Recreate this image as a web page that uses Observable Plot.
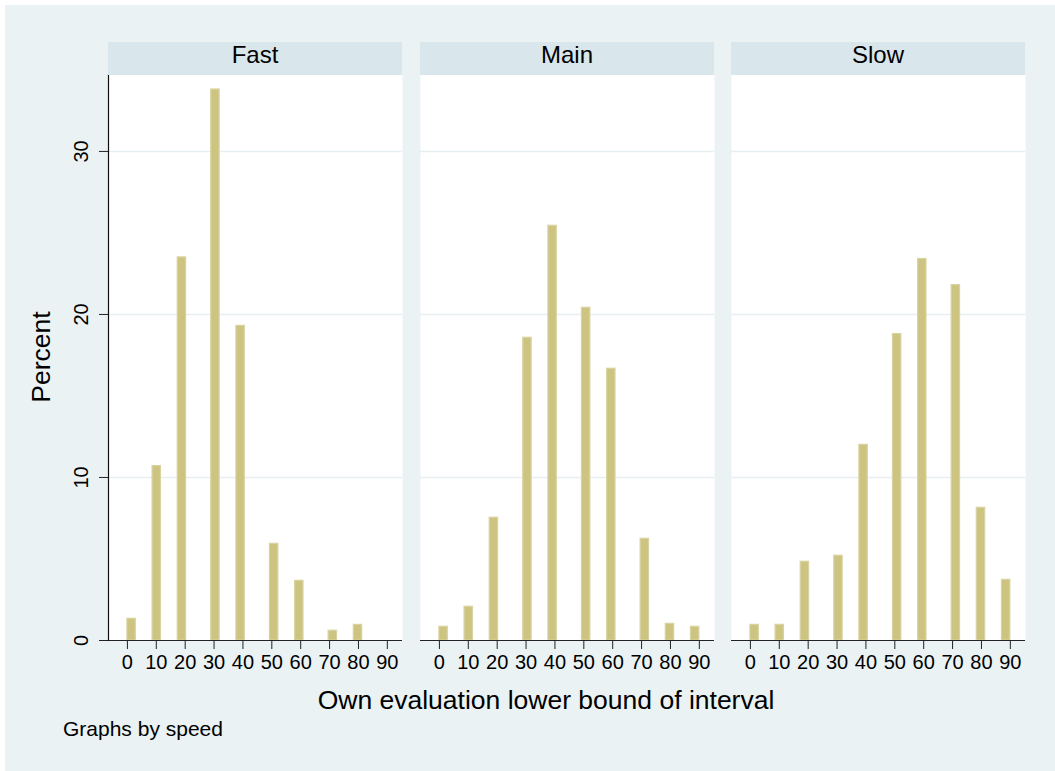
<!DOCTYPE html>
<html><head><meta charset="utf-8">
<script src="https://cdn.jsdelivr.net/npm/d3@7"></script>
<script src="https://cdn.jsdelivr.net/npm/@observablehq/plot@0.6"></script>
<style>
body{margin:0;background:#fff;font-family:"Liberation Sans",Arial,Helvetica,sans-serif;}
#page{position:relative;width:1055px;height:771px;overflow:hidden;}
#bg{position:absolute;left:5px;top:5px;right:0;bottom:0;background:#eaf2f3;}
.strip{position:absolute;top:42px;height:33px;background:#d9e6eb;text-align:center;font-size:24px;line-height:26px;color:#000;}
.panel{position:absolute;top:74px;}
.panel svg{overflow:visible;}
.lbl{position:absolute;color:#000;white-space:nowrap;}
</style></head>
<body>
<div id="page"><div id="bg"></div></div>
<script>
// ---- data ----
const speeds = ["Fast", "Main", "Slow"];
const values = [0, 10, 20, 30, 40, 50, 60, 70, 80, 90];
const fastPct = [1.33, 10.7, 23.5, 33.8, 19.3, 5.93, 3.66, 0.6, 0.96, 0];
const mainPct = [0.84, 2.07, 7.53, 18.57, 25.44, 20.41, 16.67, 6.24, 1.02, 0.84];
const slowPct = [0.96, 0.96, 4.83, 5.2, 12.0, 18.8, 23.4, 21.8, 8.14, 3.72];
const xTicks = [0, 10, 20, 30, 40, 50, 60, 70, 80, 90];
const yTicks = [0, 10, 20, 30];
const gridTicks = [10, 20, 30];
const nBins = 31;
const yTitle = "Percent";
const xTitle = "Own evaluation lower bound of interval";
const note = "Graphs by speed";

// ---- layout ----
const page = document.getElementById("page");
const series = [fastPct, mainPct, slowPct];
const frameLefts = [108, 420, 731];
const panelW = 294, panelH = 566;
const binW = 90 / nBins;
const binStart = v => Math.min(Math.floor(v / binW + 1e-9), nBins - 1) * binW;
const font = '"Liberation Sans", Arial, Helvetica, sans-serif';

speeds.forEach((name, i) => {
  const rows = values.map((v, j) => ({value: v, pct: series[i][j]})).filter(d => d.pct > 0);
  const ml = i === 0 ? 108 : 12, mr = 12, mb = 40;
  const marks = [
    Plot.frame({fill: "white", stroke: null}),
    Plot.gridY(gridTicks, {stroke: "#e6eef1", strokeOpacity: 1, strokeWidth: 1.6}),
    Plot.rect(rows, {x1: d => binStart(d.value), x2: d => binStart(d.value) + binW, y1: 0, y2: "pct",
      fill: "#ccc480", stroke: "#d9d3a1", strokeWidth: 1.2, inset: 0}),
    Plot.ruleY([0], {stroke: "#222", strokeWidth: 1.2}),
    Plot.axisX(xTicks, {tickSize: 9, tickPadding: 5.5, fontSize: 20, label: null, stroke: "#222", fill: "#000"})
  ];
  if (i === 0) {
    marks.push(
      Plot.frame({anchor: "left", stroke: "#111", strokeWidth: 1.2}),
      Plot.axisY(yTicks, {tickSize: 9, tickFormat: () => "", label: null, stroke: "#222"}),
      Plot.text(yTicks, {y: d => d, text: d => String(d), frameAnchor: "left", dx: -27, rotate: -90,
        textAnchor: "middle", lineAnchor: "middle", fontSize: 20, fill: "#000"})
    );
  }
  const chart = Plot.plot({
    width: ml + panelW + mr, height: panelH + mb,
    marginTop: 0, marginBottom: mb, marginLeft: ml, marginRight: mr,
    x: {domain: [-6.55, 95.25], axis: null},
    y: {domain: [0, 34.72], axis: null},
    style: {background: "transparent", fontFamily: font, overflow: "visible"},
    marks
  });
  const wrap = document.createElement("div");
  wrap.className = "panel";
  wrap.style.left = (frameLefts[i] - ml) + "px";
  wrap.appendChild(chart);
  page.appendChild(wrap);

  const strip = document.createElement("div");
  strip.className = "strip";
  strip.style.left = frameLefts[i] + "px";
  strip.style.width = panelW + "px";
  strip.textContent = name;
  page.appendChild(strip);
});

function addLabel(text, css) {
  const d = document.createElement("div");
  d.className = "lbl";
  d.textContent = text;
  Object.assign(d.style, css);
  page.appendChild(d);
}
addLabel(yTitle, {left: (41 - 150) + "px", top: (357 - 15) + "px", width: "300px", textAlign: "center",
  fontSize: "26.5px", lineHeight: "30px", transform: "rotate(-90deg)"});
addLabel(xTitle, {left: (546 - 300) + "px", top: "685px", width: "600px", textAlign: "center",
  fontSize: "26.5px", lineHeight: "30px"});
addLabel(note, {left: "63px", top: "717px", fontSize: "21px", lineHeight: "24px"});
</script>
</body></html>
